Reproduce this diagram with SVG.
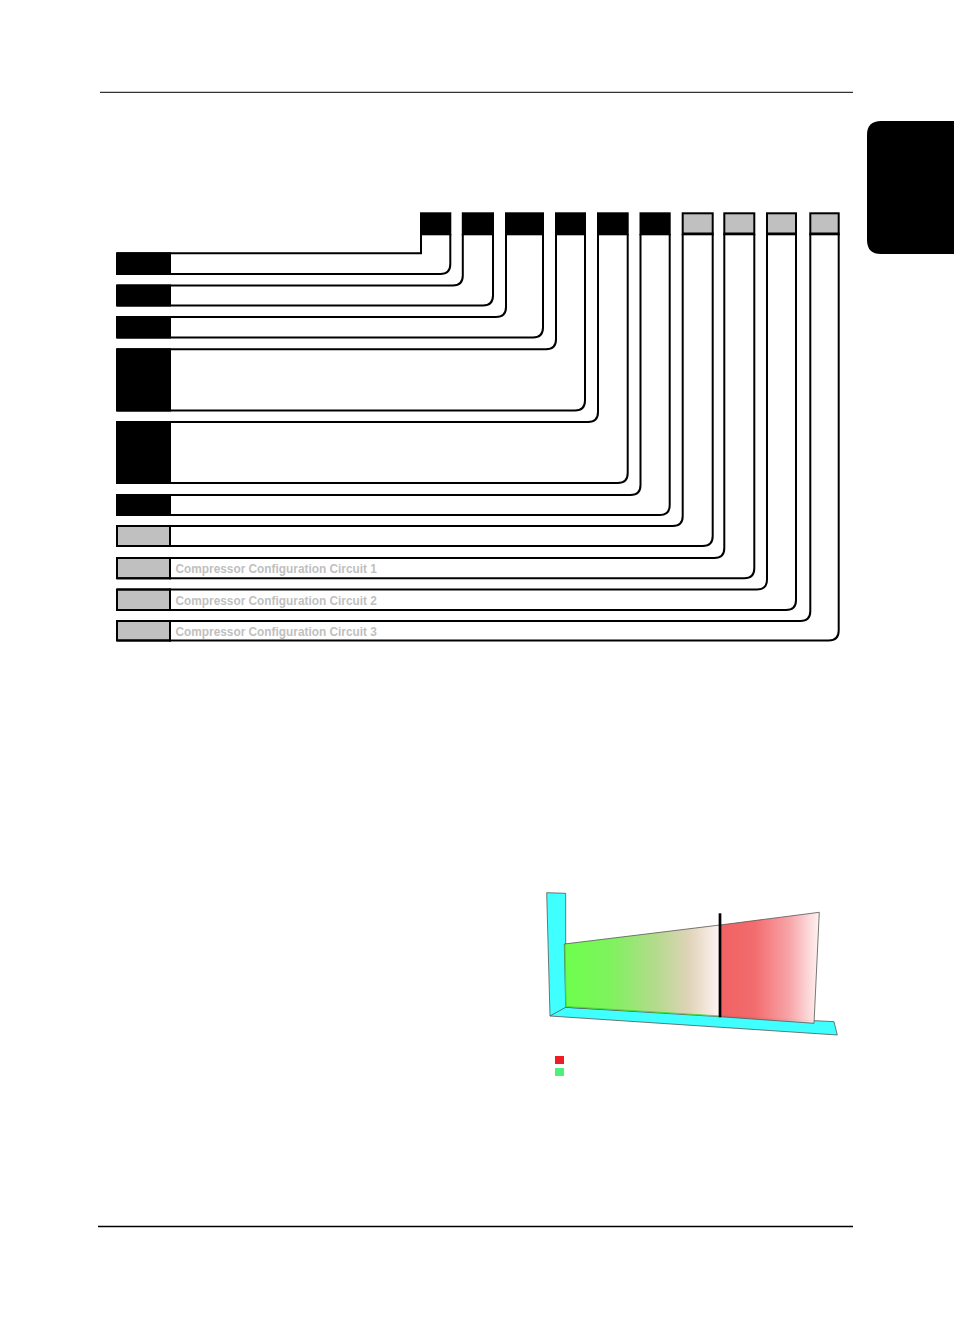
<svg xmlns="http://www.w3.org/2000/svg" width="954" height="1339" viewBox="0 0 954 1339">
  <defs>
    <style>
      .rule { stroke:#000; fill:none; }
      .code { stroke:#000; stroke-width:2; }
      .blk { fill:#000; }
      .gry { fill:#c0c0c0; }
      .con { stroke:#000; stroke-width:2; fill:none; }
      .lbl { font-family:"Liberation Sans", Arial, sans-serif; font-weight:bold; font-size:11.85px; fill:#c0c0c0; }
      .edge { stroke:#555; stroke-width:0.8; }
    </style>
    <linearGradient id="gGreen" x1="564" y1="0" x2="720" y2="0" gradientUnits="userSpaceOnUse">
      <stop offset="0" stop-color="#6cff4c"/>
      <stop offset="0.3" stop-color="#7ef25e"/>
      <stop offset="0.6" stop-color="#b6da8e"/>
      <stop offset="0.8" stop-color="#dfd3b8"/>
      <stop offset="1" stop-color="#fff4f4"/>
    </linearGradient>
    <linearGradient id="gRed" x1="720" y1="0" x2="819" y2="0" gradientUnits="userSpaceOnUse">
      <stop offset="0" stop-color="#f05a5a"/>
      <stop offset="0.35" stop-color="#f26466"/>
      <stop offset="0.7" stop-color="#f7a0a4"/>
      <stop offset="1" stop-color="#fff2f2"/>
    </linearGradient>
  </defs>

  <!-- page furniture -->
  <line class="rule" x1="100" y1="92.3" x2="853" y2="92.3" stroke-width="1"/>
  <line class="rule" x1="98" y1="1226.5" x2="853" y2="1226.5" stroke-width="1.5"/>
  <path id="tab" d="M954 121 H881 Q867 121 867 135 V240 Q867 254 881 254 H954 Z" fill="#000"/>

  <!-- top code boxes -->
  <g id="box1"><rect class="code blk" x="421" y="213.3" width="29.3" height="21"/></g>
  <g id="box2"><rect class="code blk" x="462.8" y="213.3" width="30.2" height="21"/></g>
  <g id="box3"><rect class="code blk" x="506" y="213.3" width="37" height="21"/></g>
  <g id="box4"><rect class="code blk" x="556" y="213.3" width="29" height="21"/></g>
  <g id="box5"><rect class="code blk" x="598" y="213.3" width="29.7" height="21"/></g>
  <g id="box6"><rect class="code blk" x="640.5" y="213.3" width="29.2" height="21"/></g>
  <g id="box7"><rect class="code gry" x="682.7" y="213.3" width="30" height="21"/><line class="code" x1="682" y1="233.5" x2="713.5" y2="233.5" stroke-width="3"/></g>
  <g id="box8"><rect class="code gry" x="724.3" y="213.3" width="30" height="21"/><line class="code" x1="723.5" y1="233.5" x2="755" y2="233.5" stroke-width="3"/></g>
  <g id="box9"><rect class="code gry" x="767" y="213.3" width="29" height="21"/><line class="code" x1="766" y1="233.5" x2="797" y2="233.5" stroke-width="3"/></g>
  <g id="box10"><rect class="code gry" x="810.3" y="213.3" width="28.4" height="21"/><line class="code" x1="809.5" y1="233.5" x2="839.5" y2="233.5" stroke-width="3"/></g>

  <!-- left rows -->
  <g id="row1"><rect class="code blk" x="117" y="253.3" width="53" height="20.7"/></g>
  <g id="row2"><rect class="code blk" x="117" y="285.5" width="53" height="20"/></g>
  <g id="row3"><rect class="code blk" x="117" y="317" width="53" height="20.5"/></g>
  <g id="row4"><rect class="code blk" x="117" y="349.3" width="53" height="61.2"/></g>
  <g id="row5"><rect class="code blk" x="117" y="422" width="53" height="61"/></g>
  <g id="row6"><rect class="code blk" x="117" y="495" width="53" height="20"/></g>
  <g id="row7"><rect class="code gry" x="117" y="526" width="53" height="20"/><line class="code" x1="170" y1="525" x2="170" y2="547" stroke-width="3"/></g>
  <g id="row8"><rect class="code gry" x="117" y="558" width="53" height="20.3"/><line class="code" x1="170" y1="557" x2="170" y2="579.3" stroke-width="3"/><text class="lbl" x="175.5" y="573.3">Compressor Configuration Circuit 1</text></g>
  <g id="row9"><rect class="code gry" x="117" y="589.5" width="53" height="20.5"/><line class="code" x1="170" y1="588.5" x2="170" y2="611" stroke-width="3"/><text class="lbl" x="175.5" y="604.8">Compressor Configuration Circuit 2</text></g>
  <g id="row10"><rect class="code gry" x="117" y="621" width="53" height="19.5"/><line class="code" x1="170" y1="620" x2="170" y2="641.5" stroke-width="3"/><text class="lbl" x="175.5" y="635.8">Compressor Configuration Circuit 3</text></g>

  <!-- connectors -->
  <g id="connectors" class="con">
    <path d="M117 253.3 H421 V234"/>
    <path d="M117 274 H440.3 Q450.3 274 450.3 264 V234"/>
    <path d="M117 285.5 H452.8 Q462.8 285.5 462.8 275.5 V234"/>
    <path d="M117 305.5 H483 Q493 305.5 493 295.5 V234"/>
    <path d="M117 317 H496 Q506 317 506 307 V234"/>
    <path d="M117 337.5 H533 Q543 337.5 543 327.5 V234"/>
    <path d="M117 349.3 H546 Q556 349.3 556 339.3 V234"/>
    <path d="M117 410.5 H575 Q585 410.5 585 400.5 V234"/>
    <path d="M117 422 H588 Q598 422 598 412 V234"/>
    <path d="M117 483 H617.7 Q627.7 483 627.7 473 V234"/>
    <path d="M117 495 H630.5 Q640.5 495 640.5 485 V234"/>
    <path d="M117 515 H659.7 Q669.7 515 669.7 505 V234"/>
    <path d="M117 526 H672.7 Q682.7 526 682.7 516 V234"/>
    <path d="M117 546 H702.7 Q712.7 546 712.7 536 V234"/>
    <path d="M117 558 H714.3 Q724.3 558 724.3 548 V234"/>
    <path d="M117 578.3 H744.3 Q754.3 578.3 754.3 568.3 V234"/>
    <path d="M117 589.5 H757 Q767 589.5 767 579.5 V234"/>
    <path d="M117 610 H786 Q796 610 796 600 V234"/>
    <path d="M117 621 H800.3 Q810.3 621 810.3 611 V234"/>
    <path d="M117 640.5 H828.7 Q838.7 640.5 838.7 630.5 V234"/>
  </g>

  <!-- chart -->
  <g id="chart">
    <polygon class="edge" points="546.7,892.7 565.7,893.3 565.7,1007.3 834,1021.7 837.3,1035 550,1016" fill="#40ffff"/>
    <line class="edge" x1="550" y1="1016" x2="565.7" y2="1007.3"/>
    <polygon class="edge" points="564.3,944 720,925 720,1016.7 565.7,1007.3" fill="url(#gGreen)"/>
    <polyline points="565,945 566,1006.5 720,1016" fill="none" stroke="#4fd83a" stroke-width="1.2"/>
    <polygon class="edge" points="720,925 819.3,912.3 814,1023.3 720,1016.7" fill="url(#gRed)" fill-opacity="0.95"/>
    <line x1="720" y1="913.3" x2="720" y2="1017.3" stroke="#000" stroke-width="2.7"/>
    <rect x="555" y="1056" width="9" height="8" fill="#ee1c25"/>
    <rect x="555" y="1068" width="9" height="8" fill="#4cf07a"/>
  </g>
</svg>
